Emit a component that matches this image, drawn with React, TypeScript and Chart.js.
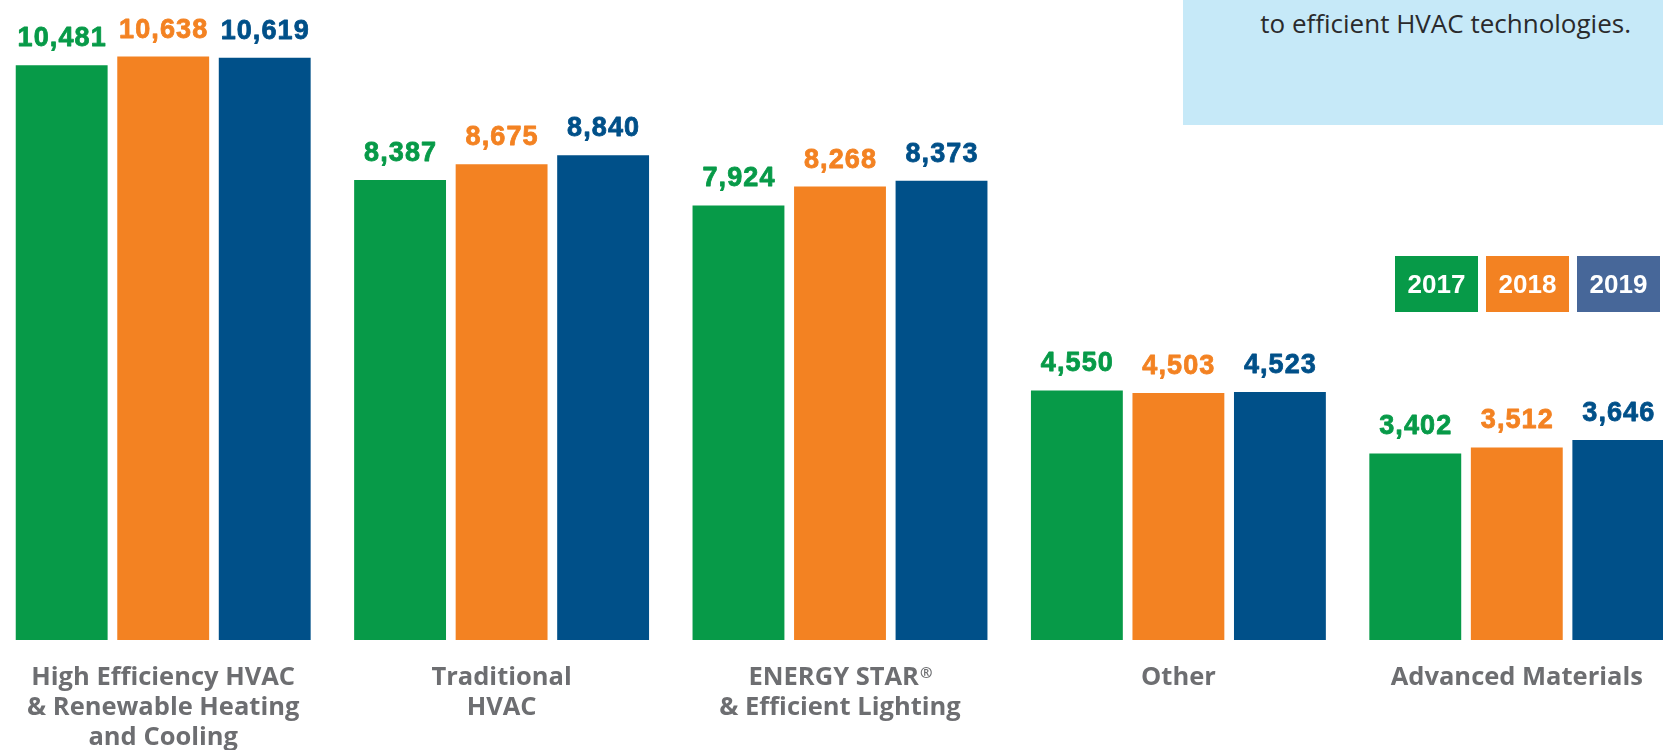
import React, { useEffect, useRef } from "react";
import { Chart, registerables } from "chart.js";

Chart.register(...registerables);

const categories: string[][] = [
  ["High Efficiency HVAC", "& Renewable Heating", "and Cooling"],
  ["Traditional", "HVAC"],
  ["ENERGY STAR®", "& Efficient Lighting"],
  ["Other"],
  ["Advanced Materials"],
];
const years: string[] = ["2017", "2018", "2019"];
const values2017: number[] = [10481, 8387, 7924, 4550, 3402];
const values2018: number[] = [10638, 8675, 8268, 4503, 3512];
const values2019: number[] = [10619, 8840, 8373, 4523, 3646];
const barColors: string[] = ["#079a48", "#f38222", "#005089"];
const legendColors: string[] = ["#079a48", "#f38222", "#476799"];
const yMax = 11670;
const noteLine = "to efficient HVAC technologies.";

const fmt = (v: number) => v.toLocaleString("en-US");

const valueLabelPlugin = {
  id: "valueLabels",
  afterDatasetsDraw(chart: any) {
    const ctx = chart.ctx;
    ctx.save();
    ctx.font = "bold 27px 'Liberation Sans', Arial, sans-serif";
    try {
      (ctx as any).letterSpacing = "1.1px";
    } catch (e) {}
    ctx.textAlign = "center";
    ctx.textBaseline = "alphabetic";
    ctx.lineWidth = 0.8;
    ctx.lineJoin = "round";
    chart.data.datasets.forEach((ds: any, di: number) => {
      const meta = chart.getDatasetMeta(di);
      meta.data.forEach((bar: any, i: number) => {
        ctx.fillStyle = ds.backgroundColor;
        ctx.strokeStyle = ds.backgroundColor;
        const t = fmt(ds.data[i]);
        ctx.fillText(t, bar.x + 0.5, bar.y - 19);
        ctx.strokeText(t, bar.x + 0.5, bar.y - 19);
      });
    });
    ctx.restore();
  },
};

const MAIN_FONT = "bold 25.5px 'Open Sans', sans-serif";
const SUP_FONT = "bold 15px 'Open Sans', sans-serif";

const categoryLabelPlugin = {
  id: "categoryLabels",
  afterDraw(chart: any) {
    const ctx = chart.ctx;
    const xs = chart.scales.x;
    const bottom = chart.chartArea.bottom;
    ctx.save();
    ctx.fillStyle = "#6d6e71";
    ctx.textBaseline = "alphabetic";
    ctx.textAlign = "left";
    categories.forEach((lines, i) => {
      const x = xs.getPixelForValue(i);
      lines.forEach((line, j) => {
        const y = bottom + 45 + j * 30;
        const parts = line.split("®");
        ctx.font = MAIN_FONT;
        const mainW = ctx.measureText(parts.join("")).width;
        ctx.font = SUP_FONT;
        const supW = (parts.length - 1) * ctx.measureText("®").width;
        let cx = x - (mainW + supW) / 2;
        parts.forEach((p, k) => {
          ctx.font = MAIN_FONT;
          ctx.fillText(p, cx, y);
          cx += ctx.measureText(p).width;
          if (k < parts.length - 1) {
            ctx.font = SUP_FONT;
            ctx.fillText("®", cx + 1, y - 7);
            cx += ctx.measureText("®").width + 1;
          }
        });
      });
    });
    ctx.restore();
  },
};

function BarChart() {
  const ref = useRef<HTMLCanvasElement | null>(null);
  useEffect(() => {
    if (!ref.current) return;
    const chart = new Chart(ref.current, {
      type: "bar",
      data: {
        labels: categories.map((c) => c.join(" ")),
        datasets: [values2017, values2018, values2019].map((vals, k) => ({
          label: years[k],
          data: vals,
          backgroundColor: barColors[k],
          borderWidth: 0,
          categoryPercentage: 0.9,
          barPercentage: 0.905,
        })),
      },
      options: {
        responsive: false,
        animation: false,
        devicePixelRatio: 1,
        layout: { padding: { top: 0, bottom: 110, left: 0, right: 0 } },
        plugins: {
          legend: { display: false },
          tooltip: { enabled: false },
        },
        scales: {
          x: { display: false, grid: { display: false } },
          y: { display: false, min: 0, max: yMax },
        },
      },
      plugins: [valueLabelPlugin, categoryLabelPlugin],
    });
    return () => chart.destroy();
  }, []);
  return (
    <canvas
      ref={ref}
      width={1692}
      height={750}
      style={{ position: "absolute", left: -6, top: 0, width: 1692, height: 750 }}
    />
  );
}

export default function App() {
  return (
    <div
      style={{
        position: "fixed",
        left: 0,
        top: 0,
        width: 1663,
        height: 750,
        overflow: "hidden",
        background: "#ffffff",
      }}
    >
      <BarChart />
      <div
        style={{
          position: "absolute",
          left: 1183,
          top: 0,
          width: 480,
          height: 125,
          background: "#c6e9f8",
        }}
      >
        <div
          style={{
            position: "absolute",
            right: 32,
            top: 8,
            whiteSpace: "nowrap",
            fontFamily: "'Open Sans', sans-serif",
            fontSize: 26,
            lineHeight: "30px",
            color: "#2a2a2c",
          }}
        >
          {noteLine}
        </div>
      </div>
      <div style={{ position: "absolute", left: 1395, top: 256, display: "flex", gap: 8 }}>
        {years.map((y, k) => (
          <div
            key={y}
            style={{
              width: 83,
              height: 56,
              background: legendColors[k],
              color: "#ffffff",
              fontFamily: "'Liberation Sans', Arial, sans-serif",
              fontWeight: "bold",
              fontSize: 26,
              lineHeight: "56px",
              textAlign: "center",
            }}
          >
            {y}
          </div>
        ))}
      </div>
    </div>
  );
}
